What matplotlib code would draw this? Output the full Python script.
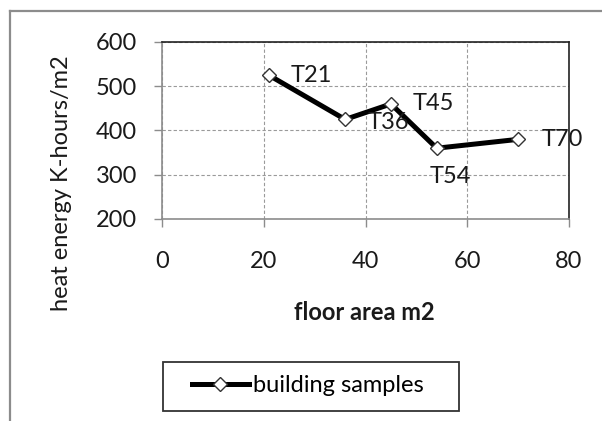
import matplotlib
matplotlib.use("Agg")
import matplotlib.pyplot as plt
from matplotlib.lines import Line2D
from matplotlib.patches import Rectangle

# ---- data ----
floor_area = [21, 36, 45, 54, 70]
heat_energy = [525, 425, 460, 360, 380]
point_labels = ["T21", "T36", "T45", "T54", "T70"]
x_ticks = [0, 20, 40, 60, 80]
y_ticks = [200, 300, 400, 500, 600]
series_name = "building samples"
x_title = "floor area m2"
y_title = "heat energy K-hours/m2"

plt.rcParams['font.family'] = ['Lato', 'DejaVu Sans']
FS = 17

W, H = 602, 421
fig = plt.figure(figsize=(W / 100, H / 100), dpi=100)
fig.patch.set_facecolor("white")

def fx(px):
    return px / W

def fy(py):
    return 1 - py / H

# outer chart-area border (left and top visible)
fig.add_artist(Line2D([fx(10), fx(10)], [0, fy(11)], transform=fig.transFigure,
                      color="#8c8c8c", lw=1.6, solid_capstyle="projecting"))
fig.add_artist(Line2D([fx(10), 1], [fy(11), fy(11)], transform=fig.transFigure,
                      color="#8c8c8c", lw=1.6, solid_capstyle="projecting"))

L, R, T, B = 162, 569, 42, 219
ax = fig.add_axes([fx(L), fy(B), (R - L) / W, (B - T) / H])
ax.set_xlim(0, 80)
ax.set_ylim(200, 600)
ax.set_xticks(x_ticks)
ax.set_yticks(y_ticks)

for s in ["top", "right"]:
    ax.spines[s].set_color("#222222")
    ax.spines[s].set_linewidth(1.2)
for s in ["left", "bottom"]:
    ax.spines[s].set_color("#8c8c8c")
    ax.spines[s].set_linewidth(1.2)

ax.grid(True, color="#9a9a9a", linestyle=(0, (3, 2)), linewidth=0.8)
ax.set_axisbelow(True)
ax.tick_params(axis="both", direction="out", length=6, width=1, color="#8c8c8c",
               labelsize=FS, labelcolor="#1a1a1a")
ax.tick_params(axis="x", pad=17)
ax.tick_params(axis="y", pad=12)

ax.plot(floor_area, heat_energy, color="black", lw=3.6, marker="D", ms=7.2,
        mfc="white", mec="#333333", mew=1.0, label=series_name, zorder=3)

offsets = {"T21": (22, 0, "left"), "T36": (22, -3, "left"), "T45": (22, 0, "left"),
           "T54": (14, -28, "center"), "T70": (24, 0, "left")}
for xv, yv, lab in zip(floor_area, heat_energy, point_labels):
    dx, dy, ha = offsets[lab]
    ax.annotate(lab, (xv, yv), xytext=(dx, dy), textcoords="offset pixels",
                ha=ha, va="center", fontsize=FS, color="#1a1a1a", zorder=4)

fig.text(fx(62), fy(183), y_title, rotation=90, ha="center", va="center",
         fontsize=FS, color="#1a1a1a")
fig.text(fx(364), fy(313), x_title, ha="center", va="center", fontsize=FS,
         fontweight="bold", color="#1a1a1a")

# legend
fig.add_artist(Rectangle((fx(163), fy(411)), (459 - 163) / W, (411 - 362) / H,
                         transform=fig.transFigure, fill=False,
                         edgecolor="#333333", lw=1.3))
leg = fig.legend(loc="center left", bbox_to_anchor=(fx(192), fy(386)),
                 bbox_transform=fig.transFigure, frameon=False, fontsize=FS,
                 handlelength=2.4, handletextpad=0.2, borderpad=0, borderaxespad=0)

fig.savefig("out.png", dpi=100)
